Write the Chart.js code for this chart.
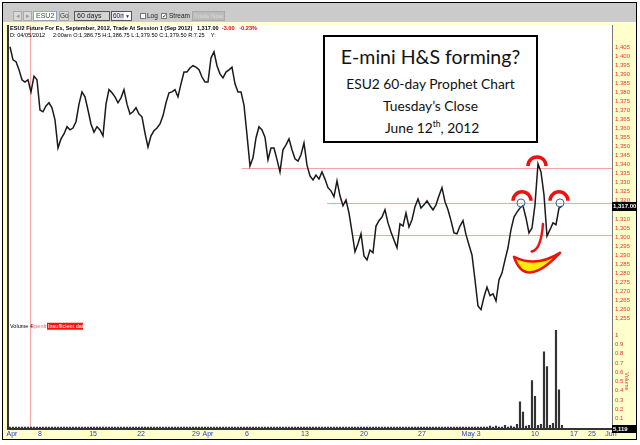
<!DOCTYPE html>
<html>
<head>
<meta charset="utf-8">
<script src="https://cdn.jsdelivr.net/npm/chart.js@4.4.0/dist/chart.umd.min.js"></script>
<style>
  body { margin: 0; background: #fff; }
  #wrap { position: relative; width: 640px; height: 445px; overflow: hidden; }
  #chart { position: absolute; left: 0; top: 0; }
  .abs { position: absolute; box-sizing: border-box; font-family: "Liberation Sans", sans-serif; white-space: nowrap; }
  .btn { background: #d9d9d9; border: 1px solid #a8a8a8; font-size: 6.5px; line-height: 8px; text-align: center; color: #333; }
  #info1, #info2 { font-size: 5.6px; white-space: pre; color: #000; }
  #info1 { left: 10px; top: 25px; font-weight: bold; }
  #info2 { left: 10px; top: 32px; }
  #note { left: 323px; top: 35px; width: 215px; height: 108px; border: 2px solid #000; background: #fff;
          font-family: Lato, "Open Sans", sans-serif; color: #111; text-align: center; }
  #note div { position: absolute; left: 0; right: 0; white-space: nowrap; }
</style>
</head>
<body>
<div id="wrap">
  <canvas id="chart" width="640" height="445"></canvas>

  <!-- barre d'outils du haut -->
  <div class="abs" style="left:3px;top:3px;width:633px;height:19px;background:#cbcbcb;"></div>
  <div class="abs btn" style="left:13px;top:11px;width:9px;height:10px;color:#999;">&#9666;</div>
  <div class="abs btn" style="left:23px;top:11px;width:9px;height:10px;color:#999;">&#9656;</div>
  <div class="abs" style="left:33px;top:11px;width:24px;height:10px;background:#fff;border:1px solid #8fa6c8;font-size:7px;line-height:8px;color:#445;padding-left:2px;">ESU2</div>
  <div class="abs btn" style="left:59px;top:11px;width:10px;height:10px;">Go</div>
  <div class="abs" style="left:74px;top:11px;width:36px;height:10px;background:#d4d4d4;border:1px solid #555;font-size:7px;line-height:8px;padding-left:2px;color:#222;">60 days</div>
  <div class="abs" style="left:111px;top:11px;width:21px;height:10px;background:#e8e8f0;border:1px solid #555;font-size:6.5px;line-height:8px;padding-left:1px;color:#222;">60m</div>
  <div class="abs" style="left:124px;top:12px;width:7px;height:8px;background:#fff;font-size:5px;line-height:8px;color:#1030c0;text-align:center;">&#9660;</div>
  <div class="abs" style="left:140px;top:13px;width:6px;height:6px;border:1px solid #777;background:#fff;"></div>
  <div class="abs" style="left:147px;top:11px;font-size:6.5px;line-height:10px;color:#222;">Log</div>
  <div class="abs" style="left:161px;top:13px;width:6px;height:6px;border:1px solid #777;background:#fff;font-size:6px;line-height:5px;">&#10003;</div>
  <div class="abs" style="left:169px;top:11px;font-size:6.5px;line-height:10px;color:#222;">Stream</div>
  <div class="abs" style="left:192px;top:11px;width:33px;height:10px;background:#bcbcbc;border:1px solid #aaa;font-size:6px;line-height:8px;color:#dcdcdc;text-align:center;">Trade Now</div>

  <div class="abs" id="info1">ESU2 Future For Es, September, 2012, Trade At Session 1 (Sep 2012)   1,317.00  <span style="color:#e00">-3.00   -0.23%</span></div>
  <div class="abs" id="info2">D: 04/05/2012     2:00am O:1,386.75 H:1,386.75 L:1,379.50 C:1,379.50 R:7.25    Y:</div>

  <div class="abs" id="note">
    <div style="top:8px;font-size:19.5px;">E-mini H&amp;S forming?</div>
    <div style="top:38px;font-size:13.8px;">ESU2 60-day Prophet Chart</div>
    <div style="top:60px;font-size:13.8px;">Tuesday’s Close</div>
    <div style="top:82px;font-size:13.8px;">&nbsp;June 12<sup style="font-size:8.5px;">th</sup>, 2012</div>
  </div>
</div>

<script>
// --- données (une valeur toutes les ~3 px, barres de 60 min) ---
const closes = [
  1405.25, 1398, 1397, 1392.5, 1387, 1385.75, 1387, 1380.25, 1389, 1387,
  1370.25, 1369.25, 1372.5, 1374.25, 1371.5, 1364.75, 1349.25, 1354.25, 1357, 1361,
  1359.25, 1360.25, 1363.75, 1373.5, 1380.25, 1377.5, 1370.25, 1362.5, 1358, 1361,
  1359.25, 1356, 1373.5, 1381.5, 1379.75, 1377.5, 1374.25, 1377, 1381.5, 1373.5,
  1368, 1369.25, 1371.5, 1368, 1366.5, 1357.5, 1349.75, 1356, 1358.75, 1360.25,
  1362.5, 1367, 1374.25, 1379.75, 1380.25, 1381.5, 1377.5, 1384.75, 1391.25, 1391.25,
  1393.5, 1394.75, 1394, 1392.5, 1388.5, 1385.75, 1385.75, 1399, 1402.5, 1394.75,
  1390.25, 1388, 1391.25, 1392.5, 1394, 1384.75, 1380.25, 1380.25, 1373, 1356.5,
  1339.25, 1343.75, 1354.75, 1361, 1359.25, 1355.25, 1342.75, 1349.25, 1349.25, 1342.75,
  1336, 1348.25, 1351, 1354.25, 1348.25, 1343.25, 1342, 1345.5, 1352, 1339.75,
  1333.75, 1331.5, 1334.25, 1332, 1336, 1332, 1327.25, 1325.5, 1322.25, 1331,
  1322.75, 1317.25, 1320.5, 1313.25, 1302.75, 1291.75, 1296.25, 1301.75, 1289.5, 1287.25,
  1292.75, 1291.25, 1306, 1309, 1311, 1315, 1307.75, 1302.75, 1298.25, 1294,
  1307.25, 1306, 1313.25, 1305.5, 1309.5, 1316.75, 1321, 1316, 1317.75, 1320,
  1317.25, 1315, 1317.75, 1322.75, 1327.25, 1319.5, 1315, 1309, 1302.25, 1301.75,
  1306, 1309, 1301.25, 1295.5, 1290, 1276.25, 1261.75, 1259.75, 1266.75, 1272.25,
  1267.5, 1268.5, 1264.5, 1276.25, 1280, 1287.25, 1294, 1304, 1311, 1313.75,
  1316, 1317.25, 1310.5, 1302.25, 1305, 1317.75, 1340.5, 1336, 1323.25, 1300.5,
  1304, 1307.75, 1306.75, 1316, 1317
];
const volumes = [
  0.01, 0.01, 0.01, 0.01, 0.01, 0.01, 0.01, 0.01, 0.01, 0.01,
  0.01, 0.01, 0.01, 0.01, 0.01, 0.01, 0.01, 0.01, 0.01, 0.01,
  0.01, 0.01, 0.01, 0.01, 0.01, 0.01, 0.01, 0.01, 0.01, 0.01,
  0.01, 0.01, 0.01, 0.01, 0.01, 0.01, 0.01, 0.01, 0.01, 0.01,
  0.01, 0.01, 0.01, 0.01, 0.01, 0.01, 0.01, 0.01, 0.01, 0.01,
  0.01, 0.01, 0.01, 0.01, 0.01, 0.01, 0.01, 0.01, 0.01, 0.01,
  0.01, 0.01, 0.01, 0.01, 0.01, 0.01, 0.01, 0.01, 0.01, 0.01,
  0.01, 0.01, 0.01, 0.01, 0.01, 0.01, 0.01, 0.01, 0.01, 0.01,
  0.01, 0.01, 0.01, 0.01, 0.01, 0.01, 0.01, 0.01, 0.01, 0.01,
  0.01, 0.01, 0.01, 0.01, 0.01, 0.01, 0.01, 0.01, 0.01, 0.01,
  0.01, 0.01, 0.01, 0.01, 0.01, 0.01, 0.01, 0.01, 0.01, 0.01,
  0.01, 0.01, 0.01, 0.01, 0.01, 0.01, 0.01, 0.01, 0.01, 0.01,
  0.01, 0.01, 0.01, 0.01, 0.01, 0.01, 0.01, 0.01, 0.01, 0.01,
  0.01, 0.01, 0.01, 0.01, 0.01, 0.01, 0.01, 0.01, 0.01, 0.01,
  0.01, 0.01, 0.01, 0.01, 0.01, 0.01, 0.01, 0.01, 0.01, 0.01,
  0.01, 0.01, 0.01, 0.01, 0.01, 0.01, 0.01, 0.01, 0.01, 0.01,
  0.02, 0.01, 0.02, 0.01, 0.01, 0.03, 0.01, 0.02, 0.01, 0.04,
  0.28, 0.17, 0.02, 0.03, 0.51, 0.34, 0.03, 0.04, 0.82, 0.66,
  0.03, 0.05, 1.05, 0.41, 0.03
];

// axe du temps : position (index de barre) et texte de chaque date
const dateTickPos = [0.67, 10, 27.7, 43.7, 62, 66, 79, 98.3, 118, 137.3, 153.7, 175, 188, 194, 200.3];
const dateTickText = ['Apr', '8', '15', '22', '29', 'Apr', '6', '13', '20', '27', 'May 3', '10', '17', '25', 'Jun'];

const priceTicks = [1255, 1260, 1265, 1270, 1275, 1280, 1285, 1290, 1295, 1300, 1305, 1310, 1315,
  1320, 1325, 1330, 1335, 1340, 1345, 1350, 1355, 1360, 1365, 1370, 1375, 1380, 1385, 1390,
  1395, 1400, 1405];
const volumeTicks = [0.1, 0.2, 0.3, 0.4, 0.5, 0.6, 0.7, 0.8, 0.9, 1];

// lignes horizontales (niveaux) : prix et index de départ
const levelPrices = [1338, 1319, 1301];
const levelStart = [77.3, 105.7, 114];
const markerIndex = 6.67;       // trait vertical rose
const lastClose = 1317;
const lastVolumeText = '5,119';

// annotations H&S : (index, prix)
const shoulderPts = [[170.67, 1320], [183, 1320]];
const headPt = [175.67, 1339.3];
const eyePts = [[170.33, 1318.8], [183.33, 1318.8]];

const RED = '#ee1111';

const extras = {
  id: 'extras',
  beforeDraw(chart) {
    const { ctx, chartArea: a } = chart;
    ctx.save();
    ctx.fillStyle = '#ffffff';
    ctx.fillRect(0, 0, chart.width, chart.height);
    ctx.fillStyle = '#ffffcc';
    ctx.fillRect(3, 22, 633, 417);
    ctx.fillStyle = '#ffffff';
    ctx.fillRect(a.left, a.top, a.right - a.left, a.bottom - a.top);
    ctx.strokeStyle = '#000';
    ctx.lineWidth = 1;
    ctx.strokeRect(2.5, 2.5, 634, 437);
    ctx.restore();
  },
  beforeDatasetsDraw(chart) {
    const { ctx, chartArea: a, scales } = chart;
    ctx.save();
    ctx.strokeStyle = '#f5a3a3';
    ctx.lineWidth = 1;
    const mx = Math.round(scales.x.getPixelForValue(markerIndex)) + 0.5;
    ctx.beginPath();
    ctx.moveTo(mx, a.top);
    ctx.lineTo(mx, a.bottom);
    ctx.stroke();
    levelPrices.forEach((p, k) => {
      const y = Math.round(scales.y.getPixelForValue(p)) + 0.5;
      ctx.beginPath();
      ctx.moveTo(scales.x.getPixelForValue(levelStart[k]), y);
      ctx.lineTo(a.right, y);
      ctx.stroke();
    });
    ctx.restore();
  },
  afterDatasetsDraw(chart) {
    const { ctx, scales } = chart;
    const P = (i, p) => [scales.x.getPixelForValue(i), scales.y.getPixelForValue(p)];
    ctx.save();
    // arcs rouges (épaules + tête)
    ctx.strokeStyle = RED;
    ctx.lineWidth = 3.5;
    [...shoulderPts, headPt].forEach(([i, p]) => {
      const [x, y] = P(i, p);
      ctx.beginPath();
      ctx.arc(x, y, 9, Math.PI, 0);
      ctx.stroke();
    });
    // petits cercles bleus
    ctx.strokeStyle = '#3f64a8';
    ctx.lineWidth = 1;
    eyePts.forEach(([i, p]) => {
      const [x, y] = P(i, p);
      ctx.beginPath();
      ctx.arc(x, y, 4, 0, Math.PI * 2);
      ctx.stroke();
    });
    // trait du "nez"
    ctx.strokeStyle = RED;
    ctx.lineWidth = 2.5;
    ctx.lineCap = 'round';
    let a0 = P(177.67, 1307.2), c0 = P(177, 1292.8), b0 = P(173.9, 1291.9);
    ctx.beginPath();
    ctx.moveTo(a0[0], a0[1]);
    ctx.quadraticCurveTo(c0[0], c0[1], b0[0], b0[1]);
    ctx.stroke();
    // sourire jaune
    const s = P(168, 1289), c1 = P(171.67, 1270.7), e = P(183.33, 1291.2), c2 = P(175.33, 1282.9);
    ctx.beginPath();
    ctx.moveTo(s[0], s[1]);
    ctx.quadraticCurveTo(c1[0], c1[1], e[0], e[1]);
    ctx.quadraticCurveTo(c2[0], c2[1], s[0], s[1]);
    ctx.closePath();
    ctx.fillStyle = '#ffee00';
    ctx.fill();
    ctx.lineWidth = 2.5;
    ctx.lineJoin = 'round';
    ctx.stroke();
    ctx.restore();
  },
  afterDraw(chart) {
    const { ctx, chartArea: a, scales } = chart;
    ctx.save();
    // bordures du panneau
    ctx.fillStyle = '#333';
    ctx.fillRect(a.left - 2, a.top, 2, a.bottom - a.top + 2);
    ctx.fillRect(a.left - 2, a.bottom, a.right - a.left + 2, 2);
    // étiquette du dernier cours
    const yc = Math.round(scales.y.getPixelForValue(lastClose));
    ctx.fillStyle = '#000';
    ctx.fillRect(a.right, yc - 4, 24, 9);
    ctx.fillStyle = '#fff';
    ctx.font = 'bold 6px "Liberation Sans"';
    ctx.textBaseline = 'middle';
    ctx.fillText('1,317.00', a.right + 1, yc + 0.5);
    // étiquette volume
    const yv0 = Math.round(scales.yv.getPixelForValue(0));
    ctx.fillStyle = '#000';
    ctx.fillRect(a.right, yv0 - 3, 24, 8);
    ctx.fillStyle = '#fff';
    ctx.fillText(lastVolumeText, a.right + 1, yv0 + 1);
    // texte vertical "Volume"
    ctx.save();
    ctx.translate(a.right + 15, scales.yv.getPixelForValue(0.5));
    ctx.rotate(Math.PI / 2);
    ctx.fillStyle = '#e33';
    ctx.font = '5.5px "Liberation Sans"';
    ctx.textAlign = 'center';
    ctx.fillText('Volume', 0, 0);
    ctx.restore();
    // légende du panneau volume
    const ty = scales.yv.top - 1;
    ctx.font = '5.5px "Liberation Sans"';
    ctx.fillStyle = '#000';
    ctx.fillText('Volume 4', a.left + 1, ty);
    ctx.fillStyle = '#f06060';
    ctx.fillText('OpenInt', a.left + 21, ty);
    ctx.fillStyle = '#ff1010';
    ctx.fillRect(a.left + 38, ty - 3.5, 36, 7);
    ctx.fillStyle = '#fff';
    ctx.fillText('Insufficient data', a.left + 39, ty);
    ctx.restore();
  }
};

new Chart(document.getElementById('chart'), {
  data: {
    datasets: [
      {
        type: 'line',
        data: closes.map((v, i) => ({ x: i, y: v })),
        yAxisID: 'y',
        borderColor: '#1a1a1a',
        borderWidth: 1.5,
        pointRadius: 0,
        tension: 0
      },
      {
        type: 'bar',
        data: volumes.map((v, i) => ({ x: i, y: v })),
        yAxisID: 'yv',
        backgroundColor: '#333333',
        barThickness: 1.5
      }
    ]
  },
  options: {
    responsive: false,
    animation: false,
    layout: { padding: { left: 9, top: 25, right: 4, bottom: 7 } },
    plugins: { legend: { display: false }, tooltip: { enabled: false } },
    scales: {
      x: {
        type: 'linear',
        offset: false,
        min: -0.33,
        max: 200.67,
        grid: { display: false, drawTicks: false, offset: false },
        border: { display: false },
        afterBuildTicks: s => { s.ticks = dateTickPos.map(v => ({ value: v })); },
        afterFit: s => { s.height = 10; },
        ticks: {
          autoSkip: false,
          maxRotation: 0,
          padding: 2,
          color: '#2a3cd0',
          font: { family: 'Liberation Sans', size: 7 },
          callback: v => dateTickText[dateTickPos.indexOf(v)]
        }
      },
      y: {
        type: 'linear',
        position: 'right',
        stack: 'panes',
        stackWeight: 3,
        min: 1250,
        max: 1417.3,
        grid: { display: false, drawTicks: false },
        border: { display: true, color: '#777' },
        afterBuildTicks: s => { s.ticks = priceTicks.map(v => ({ value: v })); },
        afterFit: s => { s.width = 24; },
        ticks: {
          autoSkip: false,
          padding: 3,
          color: '#ee3333',
          font: { family: 'Liberation Sans', size: 6 },
          callback: v => v.toLocaleString('en-US')
        }
      },
      yv: {
        type: 'linear',
        position: 'right',
        stack: 'panes',
        stackWeight: 1,
        min: 0,
        max: 1.083,
        grid: { display: false, drawTicks: false },
        border: { display: true, color: '#777' },
        afterBuildTicks: s => { s.ticks = volumeTicks.map(v => ({ value: v })); },
        afterFit: s => { s.width = 24; },
        ticks: {
          autoSkip: false,
          padding: 3,
          color: '#ee3333',
          font: { family: 'Liberation Sans', size: 6 },
          callback: v => (v === 1 ? '1' : v.toFixed(1))
        }
      }
    }
  },
  plugins: [extras]
});
</script>
</body>
</html>
